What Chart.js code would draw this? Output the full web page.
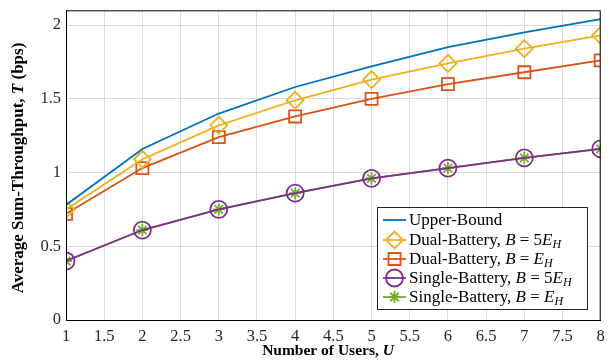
<!DOCTYPE html>
<html>
<head>
<meta charset="utf-8">
<script src="https://cdn.jsdelivr.net/npm/chart.js@4.4.1/dist/chart.umd.min.js"></script>
<style>
  html, body { margin: 0; padding: 0; background: #fff; }
  #wrap { position: relative; width: 611px; height: 361px; }
</style>
</head>
<body>
<div id="wrap"><canvas id="chart" width="611" height="361"></canvas></div>
<script>
const users = [1, 2, 3, 4, 5, 6, 7, 8];
const upperBound = [0.78, 1.16, 1.40, 1.58, 1.72, 1.85, 1.95, 2.04];
const dual5E = [0.75, 1.09, 1.32, 1.49, 1.63, 1.74, 1.84, 1.93];
const dualE = [0.72, 1.03, 1.24, 1.38, 1.50, 1.60, 1.68, 1.76];
const single5E = [0.40, 0.61, 0.75, 0.86, 0.96, 1.03, 1.10, 1.16];
const singleE = [0.40, 0.61, 0.75, 0.86, 0.96, 1.03, 1.10, 1.16];
const xTicks = [1, 1.5, 2, 2.5, 3, 3.5, 4, 4.5, 5, 5.5, 6, 6.5, 7, 7.5, 8];
const yTicks = [0, 0.5, 1, 1.5, 2];

const SERIF = '"Liberation Serif", "DejaVu Serif", serif';

// legend label pieces: [text, italic, subscript]
const legendParts = [
  [["Upper-Bound", false]],
  [["Dual-Battery, ", false], ["B", true], [" = 5", false], ["E", true], ["H", true, true]],
  [["Dual-Battery, ", false], ["B", true], [" = ", false], ["E", true], ["H", true, true]],
  [["Single-Battery, ", false], ["B", true], [" = 5", false], ["E", true], ["H", true, true]],
  [["Single-Battery, ", false], ["B", true], [" = ", false], ["E", true], ["H", true, true]]
];

function pts(ys) { return users.map((x, i) => ({ x: x, y: ys[i] })); }

function partFont(p, size, weight) {
  const fs = p[2] ? Math.round(size * 0.7) : size;
  return (p[1] ? 'italic ' : '') + (weight || '') + ' ' + fs + 'px ' + SERIF;
}

function partsWidth(ctx, parts, size, weight) {
  let w = 0;
  parts.forEach(p => { ctx.font = partFont(p, size, weight); w += ctx.measureText(p[0]).width; });
  return w;
}

function drawParts(ctx, parts, x, y, size, weight) {
  parts.forEach(p => {
    ctx.font = partFont(p, size, weight);
    ctx.fillText(p[0], x, p[2] ? y + 4 : y);
    x += ctx.measureText(p[0]).width;
  });
}

const extras = {
  id: 'extras',
  afterDraw(chart) {
    const ctx = chart.ctx;
    const a = chart.chartArea;
    ctx.save();
    // box around plot
    ctx.strokeStyle = '#000';
    ctx.lineWidth = 1;
    ctx.strokeRect(a.left + 0.5, a.top + 0.5, a.right - a.left - 1, a.bottom - a.top);

    // axis titles
    ctx.fillStyle = '#000';
    ctx.textBaseline = 'middle';
    ctx.textAlign = 'left';
    const xt = [["Number of Users, ", false], ["U", true]];
    let w = partsWidth(ctx, xt, 15.5, 'bold');
    drawParts(ctx, xt, 328 - w / 2, 351, 15.5, 'bold');

    const yt = [["Average Sum-Throughput, ", false], ["T", true], [" (bps)", false]];
    w = partsWidth(ctx, yt, 17, 'bold');
    ctx.translate(19, 168);
    ctx.rotate(-Math.PI / 2);
    drawParts(ctx, yt, -w / 2, 0, 17, 'bold');
    ctx.setTransform(1, 0, 0, 1, 0, 0);

    // legend
    const lx = 377, ly = 207, lw = 210, lh = 102;
    ctx.fillStyle = '#fff';
    ctx.fillRect(lx, ly, lw, lh);
    ctx.strokeStyle = '#262626';
    ctx.lineWidth = 1;
    ctx.strokeRect(lx + 0.5, ly + 0.5, lw, lh);
    const rows = [220, 240, 259, 278, 297];
    chart.data.datasets.forEach((ds, i) => {
      const cy = rows[i];
      ctx.strokeStyle = ds.borderColor;
      ctx.lineWidth = ds.borderWidth;
      ctx.beginPath();
      ctx.moveTo(383, cy);
      ctx.lineTo(406, cy);
      ctx.stroke();
      if (ds.pointStyle && ds.pointRadius > 0) {
        ctx.fillStyle = 'rgba(0,0,0,0)';
        ctx.lineWidth = ds.pointBorderWidth;
        Chart.helpers.drawPoint(ctx, {
          pointStyle: ds.pointStyle, radius: ds.pointRadius,
          borderWidth: ds.pointBorderWidth, rotation: 0
        }, 394.5, cy);
      }
      ctx.fillStyle = '#000';
      ctx.textAlign = 'left';
      ctx.textBaseline = 'middle';
      drawParts(ctx, legendParts[i], 409, cy + 1, 17, '');
    });
    ctx.restore();
  }
};

function series(label, data, color, style, radius) {
  return {
    label: label,
    data: pts(data),
    borderColor: color,
    backgroundColor: 'rgba(0,0,0,0)',
    borderWidth: 1.8,
    pointStyle: style,
    pointRadius: radius,
    pointBorderWidth: 1.8,
    pointBorderColor: color,
    pointBackgroundColor: 'rgba(0,0,0,0)',
    tension: 0
  };
}

new Chart(document.getElementById('chart'), {
  type: 'line',
  data: {
    datasets: [
      series('Upper-Bound', upperBound, '#0072BD', false, 0),
      series('Dual-Battery, B = 5E_H', dual5E, '#EDB120', 'rectRot', 8.5),
      series('Dual-Battery, B = E_H', dualE, '#D95319', 'rect', 8.5),
      series('Single-Battery, B = 5E_H', single5E, '#7E2F8E', 'circle', 8.5),
      series('Single-Battery, B = E_H', singleE, '#77AC30', 'star', 6)
    ]
  },
  options: {
    responsive: false,
    animation: false,
    devicePixelRatio: 1,
    layout: { padding: { top: 7, right: 8, left: 0, bottom: 0 } },
    plugins: { legend: { display: false }, tooltip: { enabled: false } },
    scales: {
      x: {
        type: 'linear', min: 1, max: 8,
        afterBuildTicks: s => { s.ticks = xTicks.map(v => ({ value: v })); },
        afterFit: s => { s.height = 41; s.paddingLeft = 0; s.paddingRight = 0; },
        grid: { color: '#dcdcdc', lineWidth: 1, drawTicks: false },
        border: { color: '#000', width: 1 },
        ticks: {
          color: '#262626', padding: 7, maxRotation: 0, autoSkip: false,
          font: { family: SERIF, size: 16.5 },
          callback: v => String(v)
        }
      },
      y: {
        type: 'linear', min: 0, max: 2.1,
        afterBuildTicks: s => { s.ticks = yTicks.map(v => ({ value: v })); },
        afterFit: s => { s.width = 66; s.paddingTop = 0; s.paddingBottom = 0; },
        grid: { color: '#dcdcdc', lineWidth: 1, drawTicks: false },
        border: { color: '#000', width: 1 },
        ticks: {
          color: '#262626', padding: 5,
          font: { family: SERIF, size: 16.5 },
          callback: v => String(v)
        }
      }
    }
  },
  plugins: [extras]
});
</script>
</body>
</html>
